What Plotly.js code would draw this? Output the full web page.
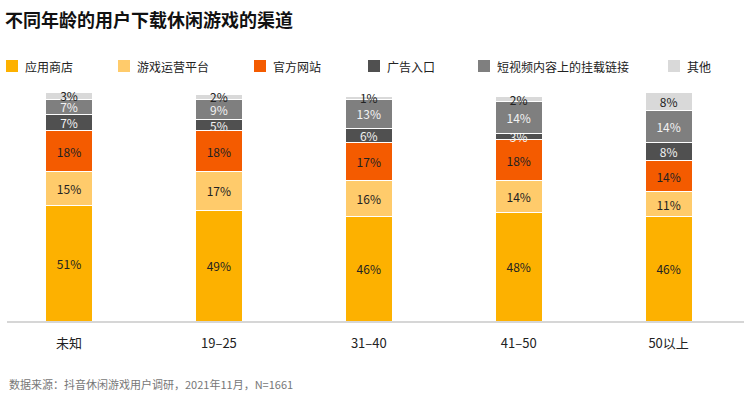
<!DOCTYPE html>
<html>
<head>
<meta charset="utf-8">
<script src="https://cdn.plot.ly/plotly-3.0.1.min.js"></script>
<style>html,body{margin:0;padding:0;background:#fff;}#chart{width:744px;height:397px;}</style>
</head>
<body>
<div id="chart"></div>
<script>
const categories = ['未知', '19–25', '31–40', '41–50', '50以上'];
const seriesNames = ['应用商店', '游戏运营平台', '官方网站', '广告入口', '短视频内容上的挂载链接', '其他'];
const appStore   = [51, 49, 46, 48, 46];
const gamePlatform = [15, 17, 16, 14, 11];
const officialSite = [18, 18, 17, 18, 14];
const adEntry    = [7, 5, 6, 3, 8];
const shortVideo = [7, 9, 13, 14, 14];
const other      = [3, 2, 1, 2, 8];
const seriesValues = [appStore, gamePlatform, officialSite, adEntry, shortVideo, other];
const colors = ['#FDB100', '#FFCB6B', '#F45B00', '#505050', '#7F7F7F', '#D9D9D9'];
const textColors = ['#222222', '#222222', '#222222', '#F2F2F2', '#F2F2F2', '#222222'];
const legendLeft = [6, 118, 254, 368, 478, 668];
const title = '不同年龄的用户下载休闲游戏的渠道';
const source = '数据来源：抖音休闲游戏用户调研，2021年11月，N=1661';

const FONT = '"Noto Sans CJK SC", "Noto Sans", sans-serif';
const W = 744, H = 397;
const M = {l: 7, r: 0, t: 80, b: 76};
const plotW = W - M.l - M.r, plotH = H - M.t - M.b;
const px2x = px => (px - M.l) / plotW;
const py2y = py => (H - M.b - py) / plotH;

const traces = seriesNames.map((name, i) => ({
  type: 'bar',
  name: name,
  x: categories,
  y: seriesValues[i],
  width: 0.3135,
  marker: {color: colors[i], line: {color: '#ffffff', width: 1}},
  text: seriesValues[i].map(v => v + '%'),
  textposition: 'inside',
  insidetextanchor: 'middle',
  constraintext: 'none',
  textangle: 0,
  textfont: {family: FONT, size: 12, color: textColors[i]},
  hoverinfo: 'skip',
  cliponaxis: false
}));

const shapes = [];
const annotations = [];
seriesNames.forEach((name, i) => {
  const x0 = legendLeft[i];
  shapes.push({
    type: 'rect', xref: 'paper', yref: 'paper',
    x0: px2x(x0), x1: px2x(x0 + 12), y0: py2y(72), y1: py2y(60),
    fillcolor: colors[i], line: {width: 0}
  });
  annotations.push({
    xref: 'paper', yref: 'paper', x: px2x(x0 + 17), y: py2y(66),
    xanchor: 'left', yanchor: 'middle', showarrow: false,
    text: name, font: {family: FONT, size: 12, color: '#222'}
  });
});
annotations.push({
  xref: 'paper', yref: 'paper', x: px2x(7), y: py2y(384),
  xanchor: 'left', yanchor: 'middle', showarrow: false,
  text: source, font: {family: FONT, size: 11, color: '#777'}
});

const layout = {
  width: W, height: H,
  margin: M,
  paper_bgcolor: '#ffffff', plot_bgcolor: '#ffffff',
  barmode: 'stack',
  showlegend: false,
  title: {
    text: title, xref: 'container', yref: 'container',
    x: 5 / W, y: 1 - 21 / H, xanchor: 'left', yanchor: 'middle',
    font: {family: FONT, size: 18, color: '#111111', weight: 'bold'}
  },
  xaxis: {
    type: 'category',
    range: [-0.4136, 4.503],
    showgrid: false, zeroline: false,
    showline: true, linecolor: '#D6D6D6', linewidth: 2,
    ticks: '', ticklabelstandoff: 9,
    tickfont: {family: FONT, size: 13, color: '#222'},
    fixedrange: true
  },
  yaxis: {
    range: [0, 106.4], visible: false, showgrid: false, zeroline: false, fixedrange: true
  },
  shapes: shapes,
  annotations: annotations
};

Plotly.newPlot('chart', traces, layout, {displayModeBar: false, staticPlot: true});
</script>
</body>
</html>
